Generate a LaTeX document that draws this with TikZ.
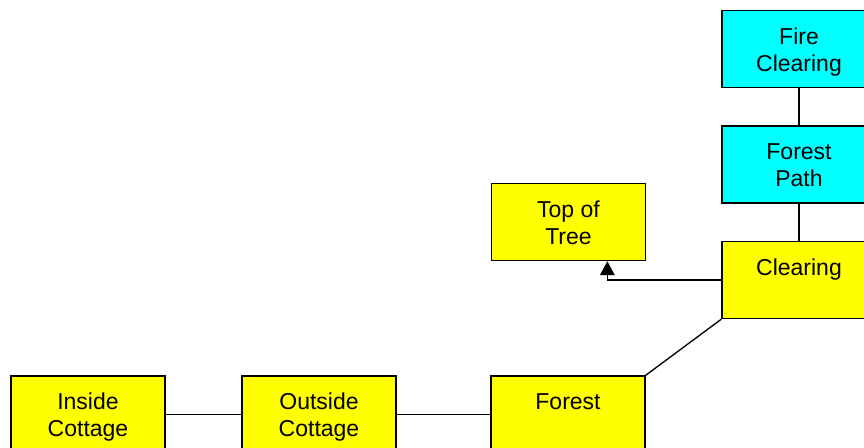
\documentclass[tikz,border=0pt]{standalone}
\usepackage{fontspec}
\setmainfont{Liberation Sans}
\usetikzlibrary{arrows.meta,calc}
\definecolor{boxyellow}{RGB}{255,255,0}
\definecolor{boxcyan}{RGB}{0,255,255}
\newcommand\roomtext[2]{\rule{0pt}{18.15pt}#1\\#2\rule[-5pt]{0pt}{5pt}}
\tikzset{
  room/.style={draw=black, line width=1.1pt, rectangle, minimum width=115.5pt, minimum height=57.75pt,
    inner sep=0pt, align=center, font=\fontsize{17.25}{20.25}\selectfont},
  yroom/.style={room, fill=boxyellow},
  croom/.style={room, fill=boxcyan},
  link/.style={draw=black, line width=1pt},
  arrowlink/.style={link, -{Triangle[width=11pt,length=10.5pt]}}
}
\begin{document}
\begin{tikzpicture}[x=0.75pt, y=-0.75pt]
\useasboundingbox (0,0) rectangle (864,448);
\clip (0,0) rectangle (864,448);
\node[croom] (fc) at (799,49) {\roomtext{Fire}{Clearing}};
\node[croom] (fp) at (799,164.5) {\roomtext{Forest}{Path}};
\node[yroom] (cl) at (799,280) {\roomtext{Clearing}{}};
\node[yroom] (tt) at (568.5,222) {\roomtext{Top of}{Tree}};
\node[yroom] (ic) at (88,414.5) {\roomtext{Inside}{Cottage}};
\node[yroom] (oc) at (319,414.5) {\roomtext{Outside}{Cottage}};
\node[yroom] (fo) at (568,414.5) {\roomtext{Forest}{}};
\coordinate (ttin) at ($(tt.south west)!0.75!(tt.south east)$);
\draw[link] (fc) -- (fp);
\draw[link] (fp) -- (cl);
\draw[link] (ic) -- (oc);
\draw[link] (oc) -- (fo);
\draw[link] (cl.south west) -- (fo.north east);
\draw[arrowlink] (cl.west) -| (ttin);
\end{tikzpicture}
\end{document}
